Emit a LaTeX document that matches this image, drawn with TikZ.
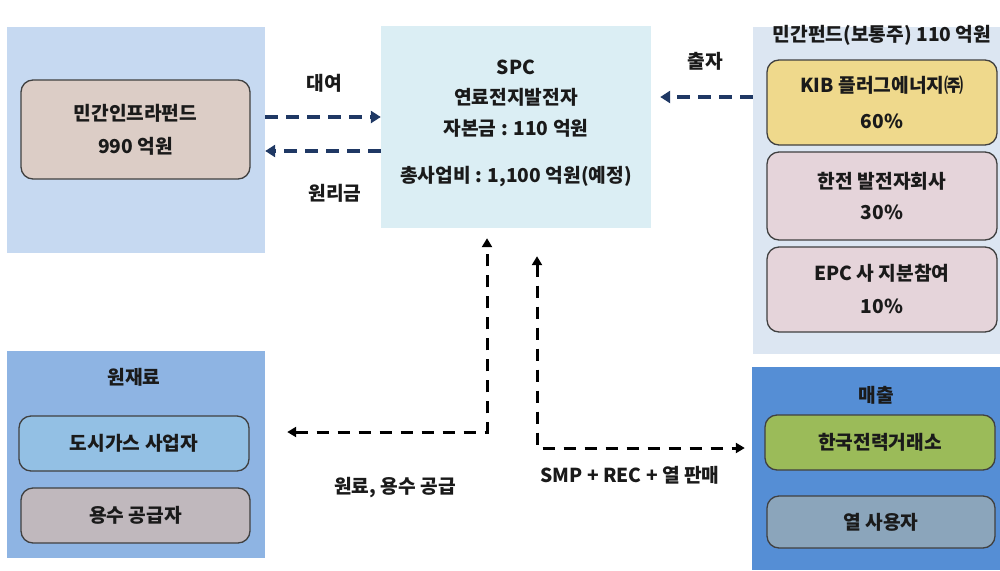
\documentclass[tikz,border=0pt]{standalone}
\usepackage{fontspec}
\setmainfont{Noto Sans CJK KR}
\usetikzlibrary{arrows.meta,calc}
\definecolor{lpC}{HTML}{C6D9F1}
\definecolor{fundC}{HTML}{DCCDC6}
\definecolor{spcC}{HTML}{DBEEF4}
\definecolor{rpC}{HTML}{DCE6F2}
\definecolor{kibC}{HTML}{EFD98C}
\definecolor{pinkC}{HTML}{E5D4DA}
\definecolor{blC}{HTML}{8EB4E3}
\definecolor{gasC}{HTML}{93C0E4}
\definecolor{waterC}{HTML}{C0B8BD}
\definecolor{brC}{HTML}{558ED5}
\definecolor{kpxC}{HTML}{9BBB59}
\definecolor{heatC}{HTML}{8BA5BB}
\definecolor{navyC}{HTML}{1F3864}
\definecolor{txtC}{HTML}{1A1A1A}
\begin{document}
\begin{tikzpicture}[x=1pt,y=-1pt,
  panel/.style={draw=none,inner sep=0pt},
  ibox/.style={draw=black!75,line width=1.3pt,rounded corners=12pt,inner sep=0pt,align=center,text=txtC,font=\bfseries\fontsize{19.2}{33}\selectfont},
  txt/.style={text=txtC,font=\bfseries\fontsize{19.2}{22}\selectfont,inner sep=0pt,align=center},
  navyarr/.style={draw=navyC,line width=3.2pt,dash pattern=on 13pt off 8pt,-{Triangle[length=10pt,width=12pt]}},
  blkarr/.style={draw=black,line width=3pt,dash pattern=on 12pt off 9pt}
]
\useasboundingbox (0,0) rectangle (1000,570);
% panels
\node[panel,fill=lpC,minimum width=258pt,minimum height=226pt] (lp) at (136,140) {};
\node[panel,fill=spcC,minimum width=270pt,minimum height=202pt] (spc) at (516,127) {};
\node[panel,fill=rpC,minimum width=247pt,minimum height=327pt] (rp) at (876.5,190.5) {};
\node[panel,fill=blC,minimum width=258pt,minimum height=207pt] (bl) at (136,454.5) {};
\node[panel,fill=brC,minimum width=248pt,minimum height=203pt] (br) at (876,468.5) {};
% left fund
\node[ibox,fill=fundC,minimum width=229pt,minimum height=99pt] (fund) at (135.5,129.5) {민간인프라펀드\\990 억원};
% SPC text
\node[txt] (spc1) at (516,67) {SPC};
\node[txt] (spc2) at (516,97) {연료전지발전자};
\node[txt] (spc3) at (516,128) {자본금 : 110 억원};
\node[txt] (spc4) at (516,177) {총사업비 : 1,100 억원(예정)};
% right
\node[txt] (rpt) at (882,35) {민간펀드(보통주) 110 억원};
\node[ibox,fill=kibC,minimum width=230pt,minimum height=85pt,font=\bfseries\fontsize{19.2}{36}\selectfont] (kib) at (882,102.5) {KIB 플러그에너지㈜\\60\%};
\node[ibox,fill=pinkC,minimum width=230pt,minimum height=88pt,font=\bfseries\fontsize{19.2}{31}\selectfont] (kepco) at (882,196) {한전 발전자회사\\30\%};
\node[ibox,fill=pinkC,minimum width=230pt,minimum height=85pt] (epc) at (882,289.5) {EPC 사 지분참여\\10\%};
% bottom left
\node[txt] (blt) at (134,377) {원재료};
\node[ibox,fill=gasC,minimum width=230pt,minimum height=55pt] (gas) at (134,443.5) {도시가스 사업자};
\node[ibox,fill=waterC,minimum width=229pt,minimum height=55pt] (water) at (135.5,515.5) {용수 공급자};
% bottom right
\node[txt] (brt) at (876,395) {매출};
\node[ibox,fill=kpxC,minimum width=230pt,minimum height=55pt] (kpx) at (880,442.5) {한국전력거래소};
\node[ibox,fill=heatC,minimum width=228pt,minimum height=52pt] (heat) at (881,522) {열 사용자};
% labels
\node[txt] (l1) at (324,83) {대여};
\node[txt] (l2) at (335,193) {원리금};
\node[txt] (l3) at (705,61) {출자};
\node[txt] (l4) at (395,488) {원료, 용수 공급};
\node[txt] (l5) at (630,475) {SMP + REC + 열 판매};
% arrows top
\draw[navyarr] ([yshift=23pt]lp.east) -- ([yshift=23pt]lp.east -| spc.west);
\draw[navyarr] ([yshift=-11pt]lp.east -| spc.west) -- ([yshift=-11pt]lp.east);
\draw[navyarr,shorten >=9pt] ([yshift=93.5pt]rp.west) -- ([yshift=93.5pt]rp.west -| spc.east);
% bottom arrows
\coordinate (ca) at (487,432);
\coordinate (cb) at (537,448);
\draw[blkarr,{Triangle[length=9pt,width=10pt]}-{Triangle[length=9pt,width=10pt]},shorten <=22pt,shorten >=10pt] (bl.east |- ca) -- (ca) -- (spc.south -| ca);
\draw[blkarr,{Triangle[length=9pt,width=10pt]}-{Triangle[length=9pt,width=10pt]},shorten <=28pt,shorten >=7pt] (spc.south -| cb) -- (cb) -- (br.west |- cb);
\end{tikzpicture}
\end{document}
